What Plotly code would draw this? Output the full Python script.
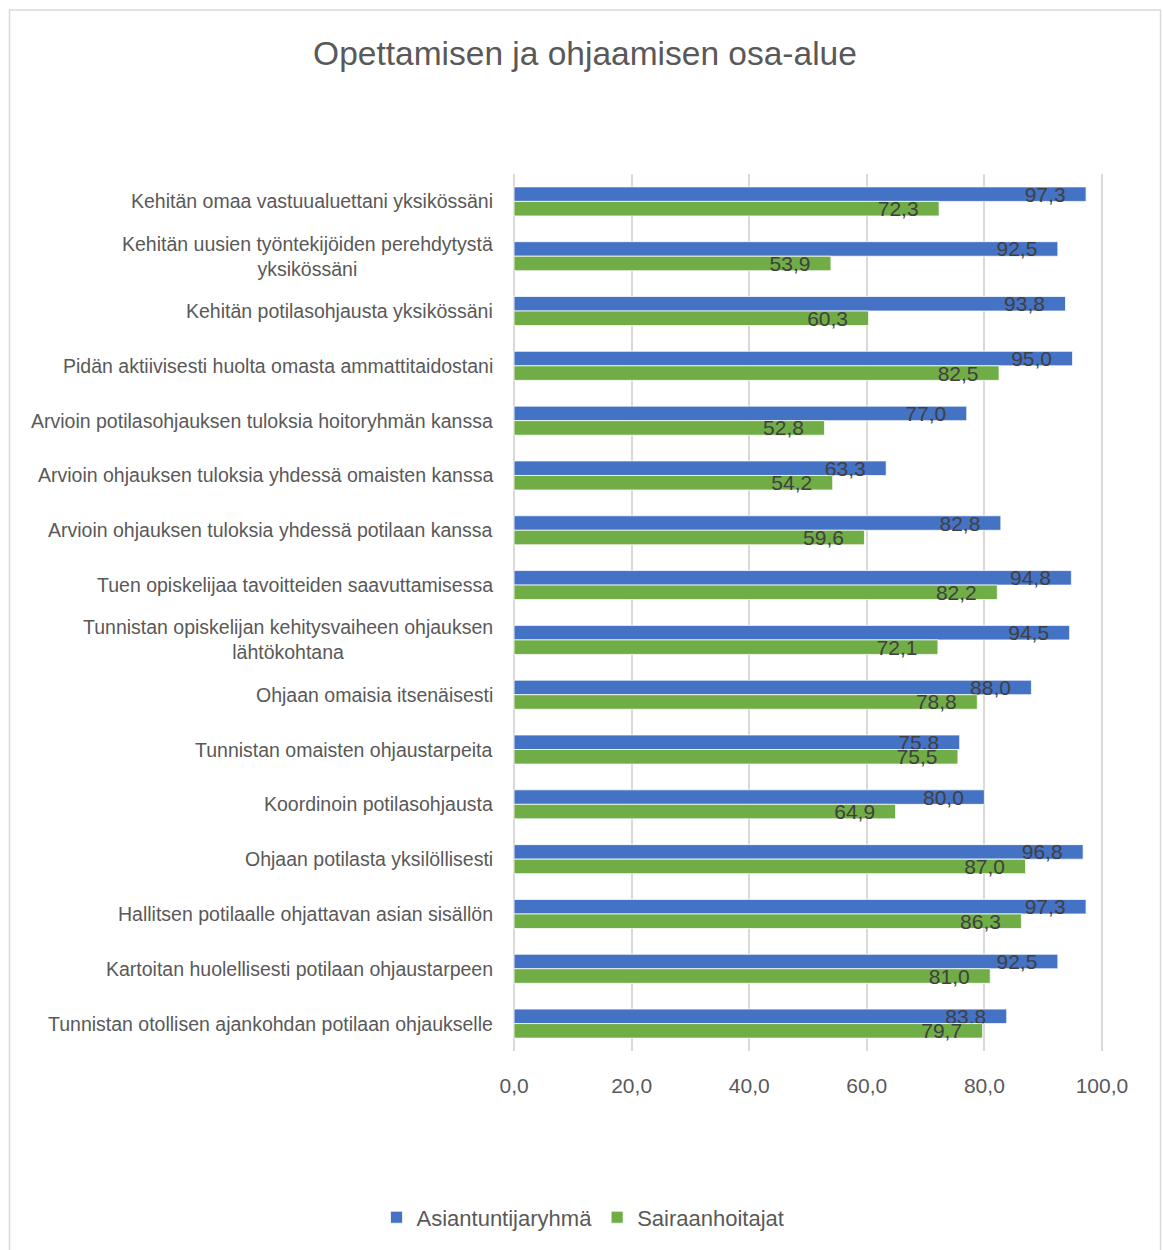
import plotly.graph_objects as go

# Statements shown on the category axis (top to bottom)
categories = [
    "Kehitän omaa vastuualuettani yksikössäni",
    "Kehitän uusien työntekijöiden perehdytystä<br>yksikössäni",
    "Kehitän potilasohjausta yksikössäni",
    "Pidän aktiivisesti huolta omasta ammattitaidostani",
    "Arvioin potilasohjauksen tuloksia hoitoryhmän kanssa",
    "Arvioin ohjauksen tuloksia yhdessä omaisten kanssa",
    "Arvioin ohjauksen tuloksia yhdessä potilaan kanssa",
    "Tuen opiskelijaa tavoitteiden saavuttamisessa",
    "Tunnistan opiskelijan kehitysvaiheen ohjauksen<br>lähtökohtana",
    "Ohjaan omaisia itsenäisesti",
    "Tunnistan omaisten ohjaustarpeita",
    "Koordinoin potilasohjausta",
    "Ohjaan potilasta yksilöllisesti",
    "Hallitsen potilaalle ohjattavan asian sisällön",
    "Kartoitan huolellisesti potilaan ohjaustarpeen",
    "Tunnistan otollisen ajankohdan potilaan ohjaukselle",
]

asiantuntijaryhma = [97.3, 92.5, 93.8, 95.0, 77.0, 63.3, 82.8, 94.8,
                     94.5, 88.0, 75.8, 80.0, 96.8, 97.3, 92.5, 83.8]
sairaanhoitajat = [72.3, 53.9, 60.3, 82.5, 52.8, 54.2, 59.6, 82.2,
                   72.1, 78.8, 75.5, 64.9, 87.0, 86.3, 81.0, 79.7]

series_names = ["Asiantuntijaryhmä", "Sairaanhoitajat"]
x_ticks = [0, 20, 40, 60, 80, 100]

FONT = "Liberation Sans"
W, H = 1163, 1250
# axis padded a little past 0 and 100 so the end gridlines stay visible
X_PAD = 0.35
PX_PER_UNIT = 5.88
M_L = round(514 - X_PAD * PX_PER_UNIT)
M_R = round(61 - X_PAD * PX_PER_UNIT)
M_T, M_B = 174, 196


def px_x(px):
    return (px - M_L) / (W - M_L - M_R)


def px_y(py):
    return (H - py - M_B) / (H - M_T - M_B)


fig = go.Figure()
for name, vals, color in [
    (series_names[0], asiantuntijaryhma, "#4472C4"),
    (series_names[1], sairaanhoitajat, "#70AD47"),
]:
    fig.add_trace(go.Bar(
        name=name,
        y=categories,
        x=vals,
        orientation="h",
        marker=dict(color=color, line=dict(color="white", width=0.75)),
        texttemplate="%{x:.1f}\u00a0\u00a0\u00a0",
        textposition="inside",
        insidetextanchor="end",
        constraintext="none",
        insidetextfont=dict(family=FONT, size=21, color="#404040"),
        hoverinfo="x+y",
    ))

# Category labels, centred line by line and right-aligned to the axis
for cat in categories:
    fig.add_annotation(
        x=0, xref="x", y=cat, yref="y",
        text=cat, showarrow=False,
        xanchor="right", yanchor="middle", align="center",
        xshift=-19,
        font=dict(family=FONT, size=19.5, color="#595959"),
    )

# Light frame around the whole chart area
fig.add_shape(
    type="rect", xref="paper", yref="paper",
    x0=px_x(9.5), x1=px_x(1160.5), y0=px_y(1260), y1=px_y(9.5),
    line=dict(color="#d9d9d9", width=1.5), layer="below",
)

fig.update_layout(
    width=W, height=H,
    margin=dict(l=M_L, r=M_R, t=M_T, b=M_B),
    paper_bgcolor="white", plot_bgcolor="white",
    separators=", ",
    barmode="group", bargap=0.47, bargroupgap=0,
    title=dict(
        text="Opettamisen ja ohjaamisen osa-alue",
        x=0.503, xanchor="center", y=1 - 53 / H, yanchor="middle",
        font=dict(family=FONT, size=33.5, color="#595959"),
    ),
    font=dict(family=FONT, color="#595959"),
    legend=dict(
        orientation="h", x=px_x(583), xanchor="center",
        y=px_y(1221), yanchor="middle",
        font=dict(family=FONT, size=22, color="#595959"),
        traceorder="normal", itemwidth=30,
    ),
    xaxis=dict(
        range=[-X_PAD, 100 + X_PAD], tickvals=x_ticks, tickformat=".1f",
        showgrid=True, gridcolor="#d9d9d9", gridwidth=1.5,
        zeroline=False, showline=False, ticks="",
        ticklabelstandoff=20,
        tickfont=dict(family=FONT, size=21, color="#595959"),
    ),
    yaxis=dict(
        autorange="reversed", showticklabels=False,
        showgrid=False, zeroline=False, showline=False, ticks="",
    ),
)

fig.write_html("out.html")
